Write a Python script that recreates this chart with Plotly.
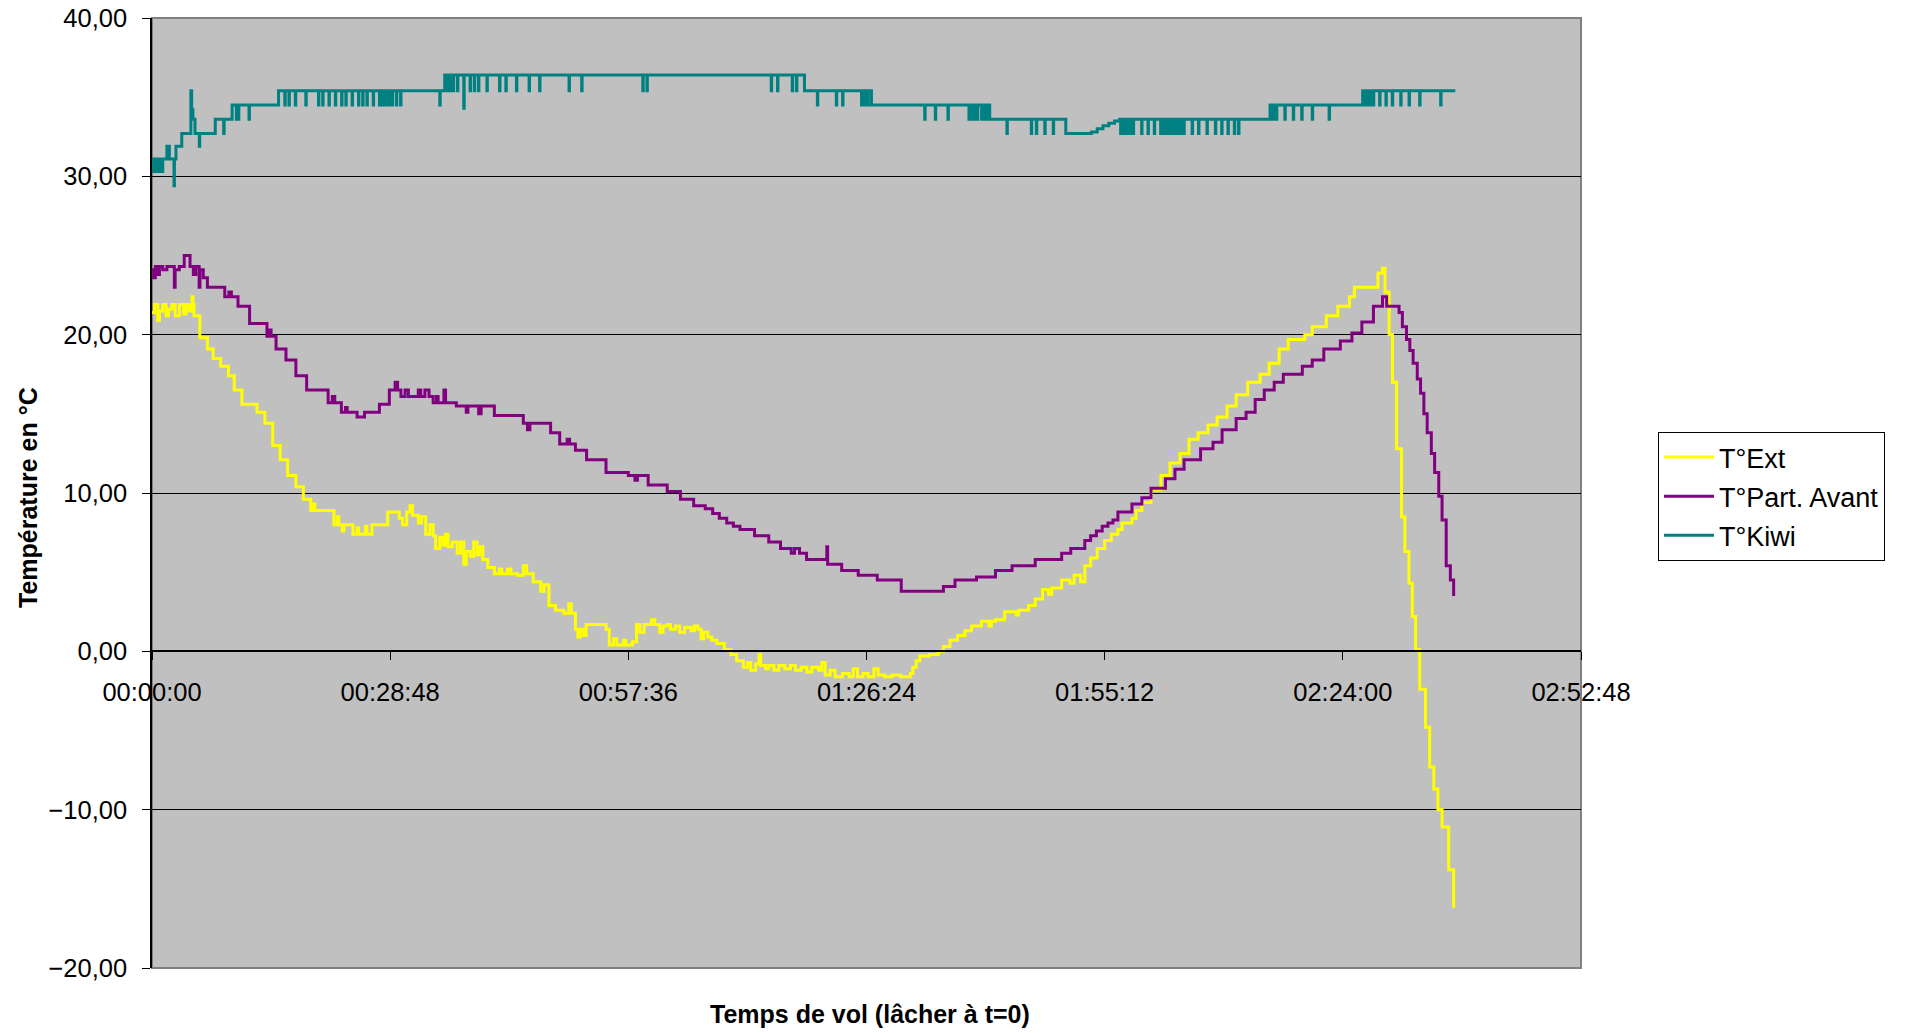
import pandas as pd
import plotly.graph_objects as go

# ---------------- data (time in minutes since release, temperature in °C) ----------------
ext_t = [0, 0.3, 0.7, 0.9, 1.3, 1.7, 2.0, 2.4, 2.8, 3.3, 3.8, 4.1, 4.5, 4.85, 4.95, 5.08, 5.78, 6.7, 7.4, 8.3,
         9.25, 9.95, 10.87, 12.7, 13.65, 14.6, 15.5, 16.4, 17.4, 18.3, 19.2, 19.5, 19.7, 22.0, 22.4, 22.6, 23.0,
         23.2, 24.3, 24.8, 25.0, 25.8, 26.0, 26.6, 28.5, 29.9, 30.3, 30.8, 31.2, 31.5, 32.2, 32.6, 33.1, 33.6,
         34.0, 34.3, 34.8, 35.2, 35.5, 35.8, 36.3, 36.9, 37.3, 37.7, 38.0, 38.5, 38.9, 39.3, 39.6, 40.0, 40.6,
         41.4, 42.0, 42.3, 43.0, 43.4, 44.2, 44.9, 45.3, 46.1, 47.0, 47.4, 48.0, 48.8, 49.8, 50.4, 50.7, 51.2,
         51.5, 51.8, 52.2, 52.5, 53.5, 54.9, 55.3, 55.8, 56.2, 57.0, 57.3, 58.1, 58.6, 59.0, 59.5, 60.4, 60.8,
         61.4, 61.8, 62.3, 62.7, 63.3, 63.8, 64.4, 65.2, 65.6, 66.0, 66.4, 66.7, 67.2, 67.7, 68.3, 69.2, 70.0,
         70.7, 71.5, 72.0, 72.4, 73.0, 73.4, 73.6, 74.2, 74.6, 75.2, 75.8, 76.5, 77.2, 77.8, 78.5, 79.2, 79.8,
         80.6, 81.0, 81.4, 82.0, 82.6, 83.5, 84.3, 84.8, 85.3, 86.0, 86.6, 87.3, 87.8, 88.6, 89.5, 90.5, 91.7,
         92.0, 92.4, 92.85, 94.0, 95.1, 95.7, 96.5, 97.4, 98.3, 99.1, 100.3, 101.2, 101.5, 102.0, 103.1, 104.5,
         104.8, 106.0, 106.8, 107.7, 108.4, 108.8, 110.0, 111.0, 111.5, 112.3, 112.8, 113.5, 114.3, 115.2,
         116.0, 116.8, 117.3, 118.5, 119.0, 119.7, 120.8, 122.0, 123.1, 124.3, 125.4, 126.5, 127.7, 128.8,
         130.0, 131.1, 132.5, 134.0, 135.1, 136.3, 137.4, 139.4, 140.3, 142.0, 143.4, 144.8, 145.4, 148.25,
         148.8, 149.1, 149.6, 150.0, 150.5, 151.1, 151.5, 152.0, 152.4, 152.8, 153.3, 154.0, 154.5, 155.0,
         155.5, 156.0, 156.8, 157.4]
ext_v = [21.4, 21.9, 20.9, 21.5, 21.9, 21.2, 21.6, 21.9, 21.2, 21.9, 21.3, 21.9, 21.5, 22.4, 21.9, 21.2, 19.8,
         19.1, 18.5, 18.0, 17.4, 16.5, 15.6, 15.1, 14.4, 13.0, 12.1, 11.1, 10.4, 9.6, 8.9, 9.3, 8.9, 8.0, 8.5,
         8.0, 7.6, 8.0, 7.4, 7.8, 7.4, 7.9, 7.4, 8.0, 8.8, 8.4, 8.0, 8.8, 9.2, 8.6, 8.1, 8.5, 7.4, 8.0, 7.3,
         6.5, 7.2, 6.7, 7.4, 6.6, 6.9, 6.2, 6.9, 5.5, 6.3, 6.0, 6.9, 6.1, 6.6, 5.8, 5.3, 4.9, 5.2, 4.9, 5.2,
         4.9, 4.8, 5.4, 4.9, 4.4, 3.8, 4.2, 2.9, 2.6, 2.4, 3.0, 2.4, 1.4, 0.9, 1.4, 1.0, 1.7, 1.7, 1.4, 0.4,
         0.8, 0.4, 0.7, 0.4, 0.6, 1.7, 1.2, 1.7, 2.0, 1.7, 1.2, 1.6, 1.7, 1.4, 1.6, 1.2, 1.5, 1.3, 1.6, 1.4,
         0.8, 1.2, 0.9, 0.7, 0.5, 0.1, -0.2, -0.6, -1.0, -0.7, -1.2, -0.8, -0.2, -0.9, -1.1, -0.9, -1.2, -0.9,
         -1.1, -0.9, -1.2, -1.0, -1.3, -1.0, -1.2, -0.7, -1.5, -1.2, -1.6, -1.4, -1.6, -1.1, -1.6, -1.4, -1.6,
         -1.1, -1.5, -1.6, -1.5, -1.6, -1.4, -1.0, -0.6, -0.3, -0.2, 0.0, 0.3, 0.7, 1.0, 1.3, 1.6, 1.9, 1.6,
         1.9, 2.0, 2.5, 2.3, 2.6, 2.9, 3.3, 3.9, 3.6, 4.0, 4.5, 4.3, 4.8, 4.4, 5.4, 5.9, 6.5, 7.0, 7.4, 7.7,
         8.1, 8.4, 8.9, 9.4, 10.2, 11.1, 11.9, 12.5, 13.4, 13.8, 14.3, 14.8, 15.5, 16.2, 17.0, 17.5, 18.2,
         19.1, 19.7, 20.0, 20.5, 21.2, 21.8, 22.4, 23.0, 23.9, 24.2, 22.7, 20.0, 17.0, 12.8, 8.5, 6.3, 4.3,
         2.2, 0.1, -2.4, -4.8, -7.3, -8.7, -10.0, -11.1, -13.8, -16.2]

front_t = [0, 0.2, 0.4, 0.6, 0.9, 1.3, 1.8, 2.3, 2.7, 2.8, 3.3, 3.9, 4.6, 5.0, 5.3, 5.7, 5.8, 6.2, 6.7, 8.8,
           9.3, 9.6, 10.4, 11.8, 13.9, 14.2, 14.4, 15.0, 16.2, 17.4, 18.7, 21.3, 21.8, 22.1, 22.9, 23.4, 23.6,
           24.8, 25.7, 27.5, 28.7, 29.4, 29.7, 30.1, 30.6, 31.0, 32.2, 32.5, 33.0, 33.5, 34.0, 34.4, 34.6,
           35.3, 35.5, 36.8, 38.0, 38.2, 39.5, 39.8, 41.4, 44.9, 45.4, 45.7, 48.2, 49.3, 50.2, 50.5, 51.2,
           52.55, 54.9, 57.6, 58.4, 58.7, 60.0, 62.3, 63.9, 65.5, 66.9, 67.8, 68.6, 69.5, 70.3, 71.1, 72.86,
           74.58, 76.0, 77.3, 77.7, 78.3, 79.15, 81.6, 81.7, 83.4, 85.4, 87.7, 90.6, 95.7, 97.1, 99.7, 102.0,
           104.0, 106.8, 110.0, 111.1, 112.8, 113.5, 114.2, 114.9, 115.6, 116.2, 116.8, 118.5, 119.7, 120.8,
           122.55, 123.7, 124.8, 126.8, 128.3, 129.4, 131.1, 132.3, 133.4, 134.5, 135.7, 136.8, 139.1, 140.3,
           141.7, 143.7, 145.1, 146.3, 147.7, 148.8, 149.3, 150.8, 151.2, 151.7, 152.1, 152.5, 153.0, 153.4,
           153.8, 154.2, 154.7, 155.1, 155.6, 156.0, 156.5, 157.0, 157.4]
front_v = [24.1, 23.6, 24.3, 23.8, 24.3, 24.1, 24.3, 24.3, 23.0, 24.1, 24.3, 25.0, 24.3, 23.8, 24.3, 23.0,
           24.1, 23.6, 23.0, 22.4, 22.7, 22.4, 21.8, 20.7, 19.9, 20.3, 19.9, 19.1, 18.4, 17.4, 16.5, 15.7,
           16.1, 15.7, 15.1, 15.4, 15.1, 14.8, 15.1, 15.6, 16.5, 17.0, 16.5, 16.1, 16.5, 16.1, 16.5, 16.1,
           16.5, 16.1, 15.7, 16.1, 15.7, 16.5, 15.7, 15.5, 15.1, 15.5, 15.0, 15.5, 14.9, 14.4, 14.0, 14.4,
           13.8, 13.1, 13.4, 13.1, 12.7, 12.1, 11.3, 11.1, 10.8, 11.1, 10.5, 10.1, 9.6, 9.2, 9.0, 8.7, 8.4,
           8.1, 7.9, 7.7, 7.3, 6.9, 6.5, 6.2, 6.5, 6.2, 5.8, 6.6, 5.5, 5.1, 4.8, 4.5, 3.8, 4.1, 4.5, 4.7, 5.1,
           5.4, 5.8, 6.2, 6.5, 7.0, 7.3, 7.6, 7.9, 8.1, 8.3, 8.8, 9.3, 9.7, 10.3, 10.9, 11.5, 12.1, 12.8,
           13.2, 14.0, 14.7, 15.1, 15.9, 16.5, 17.0, 17.5, 18.0, 18.4, 19.1, 19.6, 20.1, 20.8, 21.8, 22.4,
           21.8, 21.4, 20.5, 19.7, 19.0, 18.2, 17.2, 16.3, 15.0, 13.8, 12.5, 11.3, 9.8, 8.3, 5.4, 4.5, 3.5]

# T°Kiwi: level changes, plus the short drop-outs
kiwi_step_t = [0, 1.8, 2.1, 2.9, 3.6, 4.7, 4.8, 4.95, 5.2, 7.65, 9.69, 15.3, 35.4, 78.9, 87.0, 101.3, 110.5,
               113.6, 114.3, 115.0, 115.7, 116.4, 117.0, 117.2, 131.4, 135.2, 146.4, 157.6]
kiwi_step_v = [31.1, 31.9, 31.1, 31.9, 32.7, 35.4, 34.2, 33.6, 32.7, 33.6, 34.5, 35.4, 36.4, 35.4, 34.5, 33.6,
               32.7, 32.8, 33.0, 33.2, 33.35, 33.5, 33.6, 33.6, 33.6, 34.5, 35.4, 35.4]
kiwi_dip_t = [0.05, 0.2, 0.35, 0.5, 0.65, 0.8, 0.95, 1.1, 1.25, 2.66, 5.72, 8.67, 10.2, 10.45, 11.73,
              16.06, 16.56, 17.33, 18.6, 20.13, 20.64, 21.4, 22.17, 22.93, 23.44, 24.2, 24.97, 25.48, 25.99,
              26.75, 27.5, 27.77, 28.02, 28.28, 28.53, 28.79, 29.04, 29.55, 30.06, 34.8,
              35.66, 35.92, 36.17, 36.43, 36.94, 37.7, 38.46, 38.97, 39.48, 40.5, 42.03, 42.79, 44.07, 45.6,
              46.87, 50.43, 51.96, 59.35, 59.85, 74.88, 75.64, 77.42, 77.93,
              80.46, 82.75, 83.51, 85.8, 86.06, 86.31, 86.57,
              93.44, 94.72, 96.25, 98.79, 99.05, 99.3, 99.56, 99.81, 100.32, 100.58, 100.83, 101.08,
              103.38, 106.33, 106.94, 107.96, 108.98,
              117.13, 117.38, 117.64, 117.89, 118.15, 118.4, 118.65, 119.67, 120.44, 121.2, 121.97, 122.22,
              122.47, 122.73, 122.98, 123.24, 123.49, 123.75, 124.0, 124.26, 124.51, 124.77, 125.78, 126.55,
              127.57, 128.59, 129.35, 130.11, 130.88, 131.39,
              135.46, 135.72, 135.97, 136.99, 138.01, 139.03, 140.3, 142.34,
              146.67, 146.92, 147.18, 147.43, 147.69, 148.45, 149.21, 149.98, 151.0, 152.01, 153.29, 155.83]
kiwi_dip_v = [30.3] * 9 + [29.4, 31.9, 32.7, 33.6, 33.6, 33.6] + [34.5] * 25 \
    + [35.4] * 5 + [34.3] + [35.4] * 17 + [34.5] * 7 + [33.6] * 12 + [32.7] * 5 + [32.7] * 30 \
    + [33.6] * 8 + [34.5] * 12

series_names = ["T°Ext", "T°Part. Avant", "T°Kiwi"]
series_colors = ["#FFFF00", "#800080", "#008080"]

y_title = "Température en °C"
x_title = "Temps de vol (lâcher à t=0)"


def merge_dips(step_t, step_v, dip_t, dip_v, width=0.05):
    events = [(t, 0, v) for t, v in zip(step_t, step_v)] + [(t, 1, v) for t, v in zip(dip_t, dip_v)]
    events.sort(key=lambda e: e[0])
    out_t, out_v = [], []
    base = step_v[0]
    for t, kind, v in events:
        if kind == 0:
            base = v
            out_t.append(t)
            out_v.append(v)
        else:
            out_t += [t, t + width]
            out_v += [v, base]
    return out_t, out_v


kiwi_t, kiwi_v = merge_dips(kiwi_step_t, kiwi_step_v, kiwi_dip_t, kiwi_dip_v)

origin = pd.Timestamp("1970-01-01")


def to_time(minutes):
    return origin + pd.to_timedelta(pd.Series(minutes, dtype=float), unit="m")


FONT = "Liberation Sans, Arial, sans-serif"

fig = go.Figure()
for name, color, tt, vv in zip(series_names, series_colors,
                               [ext_t, front_t, kiwi_t], [ext_v, front_v, kiwi_v]):
    fig.add_trace(go.Scatter(x=to_time(tt), y=vv, mode="lines", name=name, legendgroup=name,
                             line=dict(color=color, width=3, shape="hv")))

W, H = 1910, 1033
L, R, T, B = 152, 329, 18, 65
PH = H - T - B
PW = W - L - R

fig.update_layout(
    width=W, height=H,
    margin=dict(l=L, r=R, t=T, b=B),
    paper_bgcolor="white",
    plot_bgcolor="#C0C0C0",
    separators=", ",
    font=dict(family=FONT, size=25, color="black"),
    showlegend=True,
    legend=dict(x=(1658 - L) / PW, y=(H - B - 432) / PH, xanchor="left", yanchor="top",
                bgcolor="white", bordercolor="black", borderwidth=1,
                font=dict(family=FONT, size=27, color="black"),
                itemwidth=50, tracegroupgap=1),
    xaxis=dict(
        type="date",
        range=[origin, origin + pd.Timedelta(seconds=10368)],
        tick0=origin, dtick=1728000, tickformat="%H:%M:%S",
        anchor="free", position=1 / 3, automargin=False,
        showline=True, linecolor="black", linewidth=1.5,
        ticks="outside", ticklen=8, tickcolor="black", tickwidth=1,
        ticklabelstandoff=10,
        showgrid=False, zeroline=False,
        tickfont=dict(family=FONT, size=25.5, color="black"),
    ),
    yaxis=dict(
        range=[-20, 40], dtick=10, tick0=0, tickformat=".2f", automargin=False,
        showline=True, linecolor="black", linewidth=1.5,
        ticks="outside", ticklen=8, tickcolor="black", tickwidth=1,
        ticklabelstandoff=10,
        showgrid=True, gridcolor="black", gridwidth=1,
        zeroline=False,
        tickfont=dict(family=FONT, size=25.5, color="black"),
    ),
    annotations=[
        dict(text="<b>" + x_title + "</b>", xref="paper", yref="paper",
             x=(870 - L) / PW, y=(H - B - 1014) / PH, xanchor="center", yanchor="middle",
             showarrow=False, font=dict(family=FONT, size=25, color="black")),
        dict(text="<b>" + y_title + "</b>", xref="paper", yref="paper",
             x=(28 - L) / PW, y=(H - B - 498) / PH, xanchor="center", yanchor="middle",
             textangle=-90, showarrow=False, font=dict(family=FONT, size=25, color="black")),
    ],
    shapes=[dict(type="rect", xref="paper", yref="paper", x0=0, x1=1, y0=0, y1=1,
                 line=dict(color="#808080", width=2), layer="below")],
)

fig.write_html("out.html", config={"displayModeBar": False},
               post_script="document.body.style.margin='0px';document.body.style.overflow='hidden';")
